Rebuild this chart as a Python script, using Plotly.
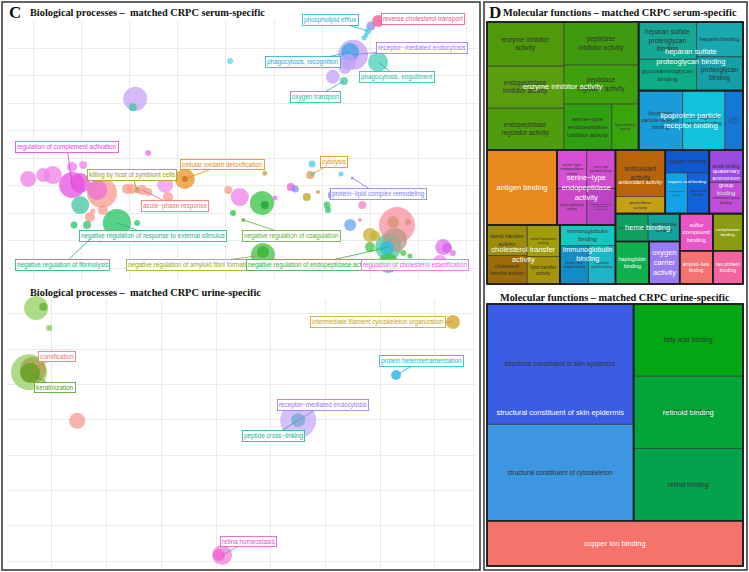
import plotly.graph_objects as go

# ---------------- Panel C: Biological processes, serum-specific ----------------
bps_x = [4.09, 2.12, 2.07, 7.16, 7.01, 6.95, 6.91, 6.87, 6.64, 6.58, 6.54, 7.16, 6.22, 6.45, 6.47,
         -0.10, 0.21, 0.41, 0.81, 0.98, 0.81, 1.04, 1.43, 1.33, 0.98, 1.24, 1.45, 1.18, 0.85, 1.12,
         1.74, 2.16, 1.39, 1.18, 2.39, 1.95, 2.16, 2.26, 2.05, 2.39, 2.74, 2.80, 3.15, 3.15, 4.05, 4.29,
         5.79, 5.75, 5.81, 6.39, 4.81, 4.75, 4.81, 5.02, 5.35, 5.44, 5.68, 5.91, 6.22, 6.10, 6.12, 6.83,
         4.15, 4.36, 6.58, 6.78, 6.99, 7.10, 7.55, 7.47, 7.78, 7.37, 7.51, 7.34, 7.37, 6.99, 7.68, 7.82,
         4.77, 4.77, 8.51, 8.59, 8.71, 8.44, 6.62]
bps_y = [7.53, 6.15, 5.85, 8.98, 8.80, 8.62, 8.47, 8.36, 7.75, 7.85, 7.49, 7.49, 6.95, 6.80, 7.27,
         3.24, 3.38, 3.38, 3.02, 3.09, 3.67, 3.75, 2.73, 2.84, 2.29, 2.07, 2.11, 1.85, 1.56, 1.56,
         1.64, 1.64, 1.05, 1.05, 4.18, 2.87, 2.84, 2.84, 2.87, 2.76, 3.02, 2.58, 3.24, 3.24, 2.84, 2.58,
         3.78, 3.38, 3.42, 3.42, 3.45, 2.36, 2.29, 2.55, 2.95, 2.87, 2.58, 2.76, 2.65, 2.29, 2.11, 2.29,
         2.00, 1.75, 1.56, 1.75, 1.20, 1.16, 1.56, 1.67, 1.67, 0.76, 1.02, 0.73, 0.18, 0.76, 0.55, 0.44,
         0.47, 0.58, 0.76, 0.73, 0.55, 0.18, 3.27]
bps_size = [6, 24, 8, 12, 9, 6, 5, 5, 30, 18, 16, 20, 14, 8, 12,
            16, 14, 18, 26, 20, 10, 8, 30, 20, 18, 5, 10, 10, 7, 8,
            28, 6, 6, 6, 6, 10, 6, 10, 10, 8, 16, 10, 20, 6, 8, 18,
            7, 8, 4, 5, 5, 24, 8, 5, 8, 7, 8, 4, 10, 7, 6, 8,
            6, 4, 12, 4, 14, 10, 36, 12, 6, 26, 24, 14, 20, 10, 6, 5,
            24, 12, 16, 10, 6, 16, 3]
bps_color = ["#5bd3e6", "#c5a3f7", "#3fc4a4", "#f54f8c", "#8c8ce6", "#4cc8e8", "#4cc8e8", "#4cc8e8",
             "#c3a0f5", "#3aa3e2", "#c3a0f5", "#48d0b8", "#c3a0f5", "#40c8a0", "#c3a0f5",
             "#ef7fe8", "#ef7fe8", "#ef7fe8", "#e450e0", "#e450e0", "#ef7fe8", "#ef7fe8", "#f89a8c",
             "#e870d8", "#42c8a2", "#f89a8c", "#f89a8c", "#f89a8c", "#2cc26a", "#2cc26a",
             "#22c262", "#2cc26a", "#2cc26a", "#2cc26a", "#e870e8", "#f89a8c", "#a09a20", "#f89a8c",
             "#f89a8c", "#f89a8c", "#f090f0", "#f89a8c", "#eb9125", "#c87010", "#f89a8c", "#ef7fe8",
             "#48cce6", "#d8a040", "#48cce6", "#48cce6", "#b0b040", "#34c040", "#20a030", "#e870e8",
             "#e060e0", "#8088f0", "#c0a020", "#c0a020", "#8088f0", "#30c060", "#30c060", "#f080d0",
             "#30c040", "#60b030", "#64a4f2", "#f080d0", "#c8b030", "#c8b030", "#f8909c", "#d89070",
             "#d89070", "#44c8a0", "#b89888", "#22c0ea", "#44c044", "#44c044", "#44c044", "#44c044",
             "#44c044", "#30b030", "#e070f0", "#d860f0", "#e070f0", "#e890f0", "#8088f0"]

bps_label = ["phospholipid efflux", "reverse cholesterol transport", "receptor\u2212mediated endocytosis",
             "phagocytosis, recognition", "phagocytosis, engulfment", "oxygen transport",
             "regulation of complement activation", "killing by host of symbiont cells",
             "cellular oxidant detoxification", "acute\u2212phase response",
             "negative regulation of response to external stimulus", "negative regulation of fibrinolysis",
             "negative regulation of amyloid fibril formation", "negative regulation of endopeptidase activity",
             "regulation of cholesterol esterification", "negative regulation of coagulation",
             "protein\u2212lipid complex remodeling", "cytolysis"]
bps_label_target = [5, 3, 8, 9, 11, 13, 18, 36, 42, 37, 30, 33, 78, 71, 83, 63, 84, 47]
bps_label_dx = [-38, 45, 69, -47, 19, -28, -5, -5, 38, 33, 36, -27, -72, -78, -25, 48, 26, 24]
bps_label_dy = [-11, -2, -7, 10, 15, 16, -38, -15, -14, 16, 13, 26, 10, 18, 2, 16, 16, -13]
bps_label_color = ["#22b0d8", "#f0508a", "#a070f0", "#20a8d8", "#20b8a0", "#20b8a0", "#e040d8",
                   "#9a9a10", "#e08a10", "#f07070", "#20b080", "#20b070", "#90a818", "#30b030",
                   "#e060e8", "#60b030", "#7a80f0", "#e08a10"]

# ---------------- Panel C: Biological processes, urine-specific ----------------
bpu_x = [-0.29, -0.16, -0.05, -0.42, -0.35, -0.40, 0.46, 7.33, 6.29, 4.50, 4.50, 3.11, 3.05]
bpu_y = [7.17, 7.20, 6.60, 5.35, 5.41, 5.33, 3.97, 6.77, 5.27, 3.99, 3.99, 0.17, 0.17]
bpu_size = [24, 8, 6, 36, 26, 20, 16, 14, 10, 36, 14, 20, 12]
bpu_color = ["#90d060", "#60b030", "#80c850", "#94cc64", "#a8a048", "#5ea020", "#f89890",
             "#d0a020", "#20b0e8", "#c4acf8", "#70a8d0", "#f080d8", "#f060d0"]
bpu_label = ["intermediate filament cytoskeleton organization", "cornification", "keratinization",
             "protein heterotetramerization", "receptor\u2212mediated endocytosis", "peptide cross\u2212linking",
             "retina homeostasis"]
bpu_label_target = [7, 4, 5, 8, 9, 10, 11]
bpu_label_dx = [-75, 24, 25, 25, 25, -25, 26]
bpu_label_dy = [0, -14, 15, -14, -15, 16, -14]
bpu_label_color = ["#c8a020", "#f07070", "#50a020", "#20b0e0", "#a070f0", "#20b090", "#e050c8"]

# ---------------- Panel D: Molecular functions, serum-specific ----------------
mfs_group = (["enzyme inhibitor activity"] * 7 + ["heparan sulfate proteoglycan binding"] * 4 +
             ["lipoprotein particle receptor binding"] * 3 + ["antigen binding"] +
             ["serine\u2212type endopeptidase activity"] * 4 + ["immunoglobulin binding"] * 3 +
             ["organic acid binding"] * 3 + ["haptoglobin binding", "oxygen carrier activity"] +
             ["quaternary ammonium group binding"] * 2 +
             ["sulfur compound binding", "complement binding"] +
             ["cholesterol transfer activity"] * 4 + ["antioxidant activity"] * 2 +
             ["heme binding"] * 2 + ["amyloid\u2212beta binding", "tau protein binding"])
mfs_term = ["enzyme inhibitor activity", "endopeptidase inhibitor activity", "endopeptidase regulator activity",
            "peptidase inhibitor activity", "peptidase regulator activity",
            "serine\u2212type endopeptidase inhibitor activity", "lipase inhibitor activity",
            "heparan sulfate proteoglycan binding", "glycosaminoglycan binding", "heparin binding",
            "proteoglycan binding",
            "lipoprotein particle receptor binding", "immunoglobulin receptor binding",
            "low\u2212density lipoprotein particle receptor binding",
            "antigen binding",
            "serine\u2212type endopeptidase activity", "serine hydrolase activity",
            "serine\u2212type peptidase activity",
            "phosphatidylcholine\u2212sterol O\u2212acyltransferase activator activity",
            "immunoglobulin binding", "lipoprotein particle binding", "protein\u2212lipid complex binding",
            "organic acid binding", "oxygen binding", "carboxylic acid binding",
            "haptoglobin binding", "oxygen carrier activity",
            "amide binding", "quaternary ammonium group binding",
            "sulfur compound binding", "complement binding",
            "cholesterol transfer activity", "sterol transporter activity", "sterol transfer activity",
            "lipid transfer activity",
            "antioxidant activity", "peroxidase activity",
            "heme binding", "tetrapyrrole binding",
            "amyloid\u2212beta binding", "tau protein binding"]
mfs_value = [3366, 3213, 3185, 3185, 2880, 2173, 1219,
             2146, 1798, 1598, 1551,
             2596, 2478, 1062,
             5207,
             1131, 1073, 1092, 1036,
             1140, 1026, 1083,
             880, 1000, 893,
             1419, 1290,
             1080, 1044,
             1221, 1110,
             1134, 1020, 1218, 884,
             2296, 840,
             900, 870,
             1089, 990]
mfs_color = ["#4e9a0a", "#5a9e10", "#4f9c0c", "#3f9a10", "#3fa00e", "#2fa010", "#3aa40c",
             "#15a896", "#0cae86", "#18a8b0", "#14a0a6",
             "#1a9cd8", "#12c2dc", "#1678d6",
             "#e8891f",
             "#d64fd4", "#cc48c8", "#d24cd0", "#bc44c4",
             "#16c6c2", "#1cb6c8", "#148cc6",
             "#1262da", "#0e58d0", "#12a2ea",
             "#10b04e", "#9a7cf2",
             "#9a4ae0", "#c04cd8",
             "#ea55c6", "#8a9c12",
             "#9c6c08", "#a09c0a", "#9c8c08", "#a8940a",
             "#b8640a", "#c4a012",
             "#10a062", "#12a49a",
             "#f47272", "#f4649e"]

# ---------------- Panel D: Molecular functions, urine-specific ----------------
mfu_group = ["structural constituent of skin epidermis"] * 2 + ["retinoid binding"] * 3 + ["copper ion binding"]
mfu_term = ["structural constituent of skin epidermis", "structural constituent of cytoskeleton",
            "fatty acid binding", "retinoid binding", "retinol binding", "copper ion binding"]
mfu_value = [17520, 14016, 7848, 7848, 7848, 11520]
mfu_color = ["#3b5de3", "#3c96e2", "#02a814", "#02a636", "#03a24c", "#f6736b"]

W, H = 749, 572
FONT = "Liberation Sans"
SERIF = "Liberation Serif"


def px(x):
    return x / W


def py(y):
    return 1 - y / H


def wrap(s, n):
    words = s.split(" ")
    lines, cur = [], ""
    for w in words:
        if cur and len(cur) + 1 + len(w) > n:
            lines.append(cur)
            cur = w
        else:
            cur = (cur + " " + w).strip()
    lines.append(cur)
    return "<br>".join(lines)


def group_wrap_width(v, total):
    share = v / total
    if share > 0.2:
        return 40
    if share > 0.04:
        return 20
    return 12


def treemap_traces(groups, terms, values, colors, domain, wrapn_leaf, leaf_size, group_size, packing):
    order = []
    for g in groups:
        if g not in order:
            order.append(g)
    gsum = {g: sum(v for gg, v in zip(groups, values) if gg == g) for g in order}
    total = sum(values)
    ids, labels, parents, vals, cols, texts = ["root"], [""], [""], [total], ["#444444"], [""]
    for g in order:
        members = [i for i, gg in enumerate(groups) if gg == g]
        if len(members) == 1:
            i = members[0]
            ids.append("g:" + g); labels.append(g); parents.append("root")
            vals.append(values[i]); cols.append(colors[i]); texts.append("")
        else:
            ids.append("g:" + g); labels.append(g); parents.append("root")
            vals.append(gsum[g]); cols.append("#444444"); texts.append("")
            for i in members:
                ids.append("c:" + g + ":" + terms[i]); labels.append(terms[i]); parents.append("g:" + g)
                vals.append(values[i]); cols.append(colors[i]); texts.append(wrap(terms[i], wrapn_leaf))
    tiling = dict(pad=0, packing=packing, squarifyratio=1)
    base = go.Treemap(
        ids=ids, labels=labels, parents=parents, values=vals, text=texts,
        branchvalues="total", sort=True, domain=domain,
        marker=dict(colors=cols, line=dict(color="#3a3a3a", width=0.6),
                    pad=dict(t=0, l=0, r=0, b=0), depthfade=False),
        tiling=tiling,
        pathbar=dict(visible=False), textinfo="text", texttemplate="%{text}",
        textposition="middle center",
        textfont=dict(family=FONT, size=leaf_size, color="#333333"),
        hoverinfo="skip",
    )
    gids = ["root"] + ["g:" + g for g in order]
    over = go.Treemap(
        ids=gids, labels=[""] + order, parents=[""] + ["root"] * len(order),
        values=[total] + [gsum[g] for g in order],
        text=[""] + [wrap(g, group_wrap_width(gsum[g], total)) for g in order],
        branchvalues="total", sort=True, domain=domain,
        marker=dict(colors=["rgba(0,0,0,0)"] * len(gids), line=dict(color="#1e1e1e", width=1.6),
                    pad=dict(t=0, l=0, r=0, b=0), depthfade=False),
        tiling=tiling,
        pathbar=dict(visible=False), textinfo="text", texttemplate="%{text}",
        textposition="middle center",
        textfont=dict(family=FONT, size=group_size, color="white"),
        hoverinfo="skip",
    )
    return [base, over]


fig = go.Figure()

fig.add_trace(go.Scatter(x=bps_x, y=bps_y, mode="markers", xaxis="x", yaxis="y",
                         marker=dict(size=bps_size, color=bps_color, opacity=0.75, line=dict(width=0)),
                         cliponaxis=False, hoverinfo="skip", showlegend=False))
fig.add_trace(go.Scatter(x=bpu_x, y=bpu_y, mode="markers", xaxis="x2", yaxis="y2",
                         marker=dict(size=bpu_size, color=bpu_color, opacity=0.75, line=dict(width=0)),
                         cliponaxis=False, hoverinfo="skip", showlegend=False))

for t in treemap_traces(mfs_group, mfs_term, mfs_value, mfs_color,
                        dict(x=[px(487), px(743)], y=[py(284), py(22)]), 18, 6.5, 7.5, "binary"):
    fig.add_trace(t)
for t in treemap_traces(mfu_group, mfu_term, mfu_value, mfu_color,
                        dict(x=[px(487), px(743)], y=[py(566), py(304)]), 60, 6.5, 7.5, "squarify"):
    fig.add_trace(t)

annotations = []


def add_labels(labels, targets, dxs, dys, colors, xs, ys, xref, yref):
    for lab, ti, dx, dy, c in zip(labels, targets, dxs, dys, colors):
        annotations.append(dict(
            x=xs[ti], y=ys[ti], xref=xref, yref=yref, text=lab, showarrow=True,
            ax=dx, ay=dy, arrowhead=0, arrowwidth=0.8, arrowcolor=c, standoff=0, startstandoff=0,
            font=dict(family=FONT, size=6.3, color=c), bgcolor="rgba(255,255,255,0.92)",
            bordercolor=c, borderwidth=0.8, borderpad=1.2))


add_labels(bps_label, bps_label_target, bps_label_dx, bps_label_dy, bps_label_color, bps_x, bps_y, "x", "y")
add_labels(bpu_label, bpu_label_target, bpu_label_dx, bpu_label_dy, bpu_label_color, bpu_x, bpu_y, "x2", "y2")

titles = [
    ("C", 7, 13, 17, "left"),
    ("Biological processes \u2013  matched CRPC serum-specific", 28, 13, 10.3, "left"),
    ("Biological processes \u2013  matched CRPC urine-specific", 28, 292, 10.3, "left"),
    ("D", 487, 13, 17, "left"),
    ("Molecular functions \u2013 matched CRPC serum-specific", 501, 13, 10.3, "left"),
    ("Molecular functions \u2013 matched CRPC urine-specific", 615, 297, 10.3, "center"),
]
for txt, x, y, s, anc in titles:
    annotations.append(dict(text="<b>" + txt + "</b>", x=px(x), y=py(y), xref="paper", yref="paper",
                            xanchor=anc, yanchor="middle", showarrow=False,
                            font=dict(family=SERIF, size=s, color="#111111")))

shapes = [
    dict(type="rect", xref="paper", yref="paper", x0=px(2), x1=px(480), y0=py(570), y1=py(2),
         line=dict(color="#333333", width=1.5)),
    dict(type="rect", xref="paper", yref="paper", x0=px(484), x1=px(747), y0=py(570), y1=py(2),
         line=dict(color="#333333", width=1.5)),
]

axis_common = dict(showgrid=True, gridcolor="#ebebeb", gridwidth=1, zeroline=False,
                   showticklabels=False, ticks="", showline=False, dtick=1, tick0=0, fixedrange=True)

fig.update_layout(
    width=W, height=H, margin=dict(l=0, r=0, t=0, b=0),
    paper_bgcolor="white", plot_bgcolor="white", showlegend=False,
    xaxis=dict(domain=[px(8), px(478)], range=[-0.519, 9.232], anchor="y", **axis_common),
    yaxis=dict(domain=[py(280), py(20)], range=[-0.436, 9.018], anchor="x", **axis_common),
    xaxis2=dict(domain=[px(8), px(476)], range=[-0.804, 7.751], anchor="y2", **axis_common),
    yaxis2=dict(domain=[py(568), py(300)], range=[-0.198, 7.394], anchor="x2", **axis_common),
    annotations=annotations, shapes=shapes,
)

fig.write_html("out.html", config={"displayModeBar": False},
               post_script="document.body.style.margin='0px';document.body.style.padding='0px';"
                           "document.body.style.overflow='hidden';")
